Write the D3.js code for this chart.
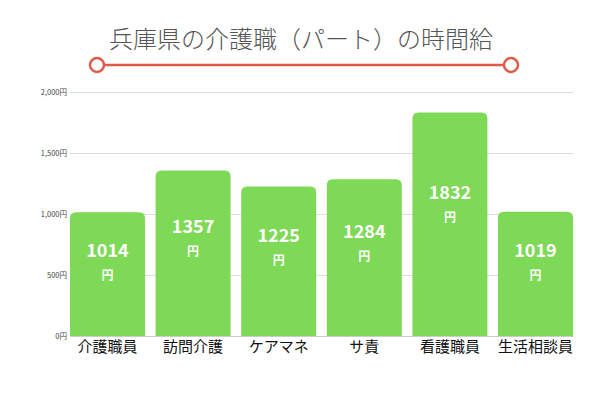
<!DOCTYPE html>
<html>
<head>
<meta charset="utf-8">
<script src="https://cdn.jsdelivr.net/npm/d3@7"></script>
<style>
    body { margin: 0; background: #fff; }
    .chart text { font-family: "Noto Sans CJK JP", "Noto Sans", sans-serif; }
</style>
</head>
<body>
<div id="chart"></div>
<script>
// data
var categories = ["介護職員", "訪問介護", "ケアマネ", "サ責", "看護職員", "生活相談員"];
var wages = [1014, 1357, 1225, 1284, 1832, 1019];
var yTicks = [0, 500, 1000, 1500, 2000];
var title = "兵庫県の介護職（パート）の時間給";

var svgWidth = 600;
var svgHeight = 400;

var margin = { top: 92, right: 27, bottom: 64, left: 70 };
var width = svgWidth - margin.left - margin.right;
var height = svgHeight - margin.top - margin.bottom;

var svg = d3.select("#chart")
    .append("svg")
    .attr("width", svgWidth)
    .attr("height", svgHeight)
    .attr("class", "chart");

// title + decorative line
svg.append("text")
    .attr("x", 301)
    .attr("y", 48)
    .attr("text-anchor", "middle")
    .attr("font-size", 24)
    .attr("font-weight", 300)
    .attr("fill", "#555")
    .text(title);

svg.append("line")
    .attr("x1", 97).attr("x2", 511)
    .attr("y1", 65).attr("y2", 65)
    .attr("stroke", "#e0594a")
    .attr("stroke-width", 2.5);

[97, 511].forEach(function (cx) {
    svg.append("circle")
        .attr("cx", cx).attr("cy", 65).attr("r", 7)
        .attr("fill", "#fff")
        .attr("stroke", "#e0594a")
        .attr("stroke-width", 2.5);
});

var g = svg.append("g")
    .attr("transform", "translate(" + margin.left + "," + margin.top + ")");

var xScale = d3.scaleBand()
    .domain(categories)
    .range([0, width])
    .paddingInner(0.124)
    .paddingOuter(0);

var yScale = d3.scaleLinear()
    .domain([0, 2000])
    .range([height, 0]);

// grid
var yAxis = d3.axisLeft(yScale)
    .tickValues(yTicks)
    .tickSize(-width)
    .tickPadding(3)
    .tickFormat(function (d) { return d3.format(",")(d) + "円"; });

var yg = g.append("g").call(yAxis);
yg.select(".domain").remove();
yg.selectAll(".tick line").attr("stroke", "#ddd").attr("stroke-width", 1);
yg.selectAll(".tick text")
    .attr("font-size", 7.5)
    .attr("fill", "#444");

// bars with rounded top corners
function barPath(x, y, w, h, r) {
    return "M" + x + "," + (y + h) +
        "V" + (y + r) +
        "Q" + x + "," + y + " " + (x + r) + "," + y +
        "H" + (x + w - r) +
        "Q" + (x + w) + "," + y + " " + (x + w) + "," + (y + r) +
        "V" + (y + h) + "Z";
}

var bars = g.selectAll(".bar")
    .data(wages)
    .enter()
    .append("g")
    .attr("class", "bar");

bars.append("path")
    .attr("d", function (d, i) {
        var y = yScale(d);
        return barPath(xScale(categories[i]), y, xScale.bandwidth(), height - y, 6);
    })
    .attr("fill", "#7ed957");

// labels inside bars, a bit above the bar's middle
function labelY(d) {
    return yScale(d) + (height - yScale(d)) * 0.42;
}

bars.append("text")
    .attr("x", function (d, i) { return xScale(categories[i]) + xScale.bandwidth() / 2; })
    .attr("y", function (d) { return labelY(d) - 7; })
    .attr("text-anchor", "middle")
    .attr("font-size", 18)
    .attr("font-weight", "bold")
    .attr("fill", "#fff")
    .text(function (d) { return d; });

bars.append("text")
    .attr("x", function (d, i) { return xScale(categories[i]) + xScale.bandwidth() / 2; })
    .attr("y", function (d) { return labelY(d) + 16; })
    .attr("text-anchor", "middle")
    .attr("font-size", 12)
    .attr("font-weight", "bold")
    .attr("fill", "#fff")
    .text("円");

// x axis
var xAxis = d3.axisBottom(xScale).tickSize(0).tickPadding(5);
var xg = g.append("g")
    .attr("transform", "translate(0," + height + ")")
    .call(xAxis);
xg.select(".domain").attr("stroke", "#ccc");
xg.selectAll(".tick text")
    .attr("font-size", 15)
    .attr("fill", "#111");
</script>
</body>
</html>
